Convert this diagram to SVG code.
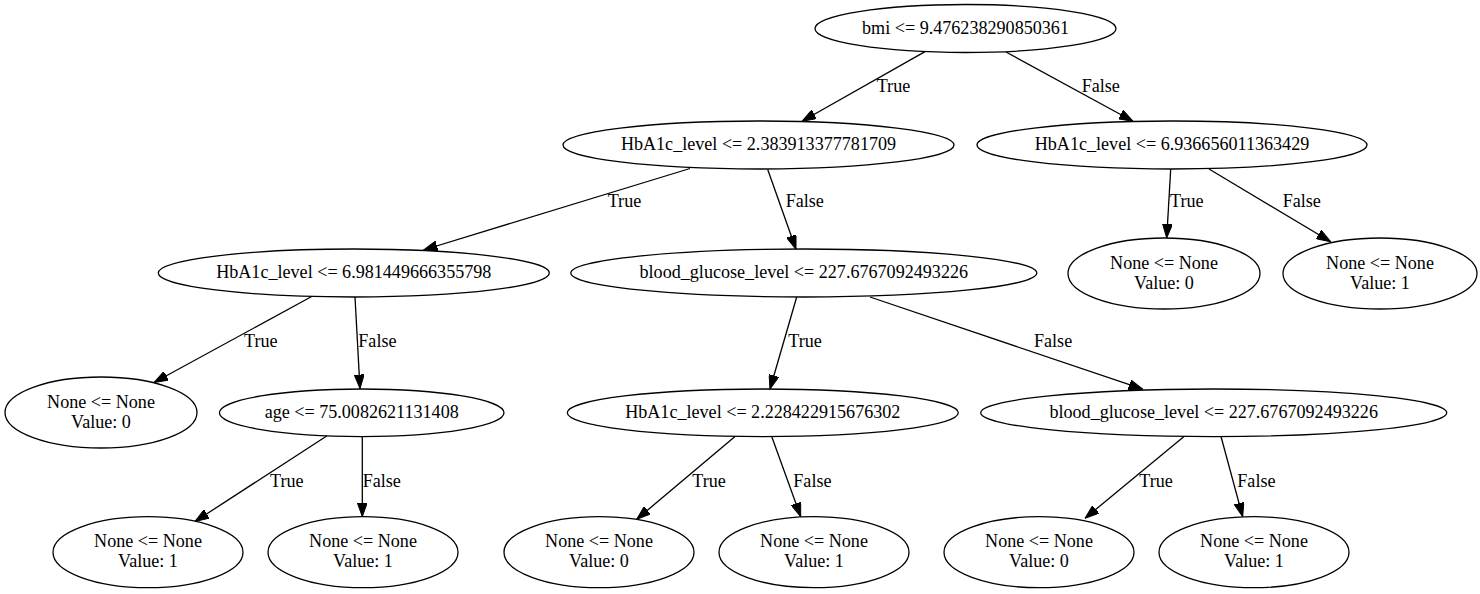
<svg xmlns="http://www.w3.org/2000/svg" width="1480" height="594" viewBox="0 0 1480 594">
<style>
  .n ellipse { fill: none; stroke: #000; stroke-width: 1.3; }
  text { font-family: "Liberation Serif", "Times New Roman", serif; font-size: 18.1px; fill: #000; }
  .n text { text-anchor: middle; }
  .e line { stroke: #000; stroke-width: 1.3; marker-end: url(#ah); }
</style>
<defs>
  <marker id="ah" markerUnits="userSpaceOnUse" viewBox="0 0 14 10" markerWidth="14" markerHeight="10" refX="14" refY="5" orient="auto">
    <path d="M0,0 L14,5 L0,10 Z" fill="#000" stroke="#000" stroke-width="1"/>
  </marker>
</defs>
<rect width="1480" height="594" fill="#fff"/>

<g id="edges" class="e">
  <line x1="925" y1="51.6" x2="802" y2="121.3"/>
  <text x="876.7" y="91.7">True</text>
  <line x1="1006" y1="52" x2="1133" y2="121.3"/>
  <text x="1081.7" y="91.7">False</text>

  <line x1="690" y1="168.5" x2="423.5" y2="250"/>
  <text x="607.7" y="207.3">True</text>
  <line x1="767.7" y1="169.5" x2="796" y2="249.3"/>
  <text x="785.7" y="207.3">False</text>

  <line x1="1170.7" y1="169.3" x2="1166.7" y2="237.9"/>
  <text x="1170" y="207.3">True</text>
  <line x1="1209" y1="169" x2="1330.7" y2="241.7"/>
  <text x="1282.7" y="207.3">False</text>

  <line x1="311.7" y1="296.5" x2="154" y2="382.5"/>
  <text x="244" y="347.3">True</text>
  <line x1="355" y1="297" x2="360" y2="388.6"/>
  <text x="358.3" y="347.3">False</text>

  <line x1="796.7" y1="297" x2="770" y2="389"/>
  <text x="788.3" y="347.3">True</text>
  <line x1="870" y1="297" x2="1142.7" y2="389.2"/>
  <text x="1034" y="347.3">False</text>

  <line x1="326.7" y1="436" x2="195" y2="521.5"/>
  <text x="270" y="487.3">True</text>
  <line x1="362.3" y1="436.5" x2="362.3" y2="516.7"/>
  <text x="362.7" y="487.3">False</text>

  <line x1="735" y1="436.5" x2="636.7" y2="519.3"/>
  <text x="692.3" y="487.3">True</text>
  <line x1="771.7" y1="436.5" x2="800.7" y2="516.7"/>
  <text x="793.3" y="487.3">False</text>

  <line x1="1184" y1="436.5" x2="1085" y2="518.3"/>
  <text x="1139.3" y="487.3">True</text>
  <line x1="1221" y1="436.5" x2="1242.7" y2="516.7"/>
  <text x="1237.3" y="487.3">False</text>
</g>

<g id="n0" class="n"><ellipse cx="965.5" cy="28.5" rx="150.5" ry="24"/><text x="965.5" y="34">bmi &lt;= 9.476238290850361</text></g>
<g id="n1" class="n"><ellipse cx="758.5" cy="145" rx="195.5" ry="24"/><text x="758.5" y="150">HbA1c_level &lt;= 2.383913377781709</text></g>
<g id="n2" class="n"><ellipse cx="1172" cy="145" rx="195" ry="24"/><text x="1172" y="150">HbA1c_level &lt;= 6.936656011363429</text></g>
<g id="n3" class="n"><ellipse cx="353.8" cy="273" rx="195.5" ry="24"/><text x="353.8" y="278">HbA1c_level &lt;= 6.981449666355798</text></g>
<g id="n4" class="n"><ellipse cx="803.8" cy="273" rx="233" ry="24"/><text x="803.8" y="278">blood_glucose_level &lt;= 227.6767092493226</text></g>
<g id="n5" class="n"><ellipse cx="1164" cy="273.5" rx="96" ry="35.5"/><text x="1164" y="268.5">None &lt;= None</text><text x="1164" y="288.5">Value: 0</text></g>
<g id="n6" class="n"><ellipse cx="1380" cy="273.5" rx="97" ry="35.5"/><text x="1380" y="268.5">None &lt;= None</text><text x="1380" y="288.5">Value: 1</text></g>
<g id="n7" class="n"><ellipse cx="101" cy="412.5" rx="96" ry="35.5"/><text x="101" y="407.8">None &lt;= None</text><text x="101" y="427.8">Value: 0</text></g>
<g id="n8" class="n"><ellipse cx="361.7" cy="412.8" rx="142.3" ry="23.8"/><text x="361.7" y="418">age &lt;= 75.0082621131408</text></g>
<g id="n9" class="n"><ellipse cx="762.8" cy="412.8" rx="195.5" ry="23.8"/><text x="762.8" y="418">HbA1c_level &lt;= 2.228422915676302</text></g>
<g id="n10" class="n"><ellipse cx="1213.7" cy="412.8" rx="233" ry="23.8"/><text x="1213.7" y="418">blood_glucose_level &lt;= 227.6767092493226</text></g>
<g id="n11" class="n"><ellipse cx="148" cy="552.2" rx="95" ry="35.5"/><text x="148" y="547">None &lt;= None</text><text x="148" y="567">Value: 1</text></g>
<g id="n12" class="n"><ellipse cx="363" cy="552.2" rx="95" ry="35.5"/><text x="363" y="547">None &lt;= None</text><text x="363" y="567">Value: 1</text></g>
<g id="n13" class="n"><ellipse cx="599" cy="552.2" rx="95" ry="35.5"/><text x="599" y="547">None &lt;= None</text><text x="599" y="567">Value: 0</text></g>
<g id="n14" class="n"><ellipse cx="814" cy="552.2" rx="95" ry="35.5"/><text x="814" y="547">None &lt;= None</text><text x="814" y="567">Value: 1</text></g>
<g id="n15" class="n"><ellipse cx="1039" cy="552.2" rx="95" ry="35.5"/><text x="1039" y="547">None &lt;= None</text><text x="1039" y="567">Value: 0</text></g>
<g id="n16" class="n"><ellipse cx="1254" cy="552.2" rx="95" ry="35.5"/><text x="1254" y="547">None &lt;= None</text><text x="1254" y="567">Value: 1</text></g>
</svg>
